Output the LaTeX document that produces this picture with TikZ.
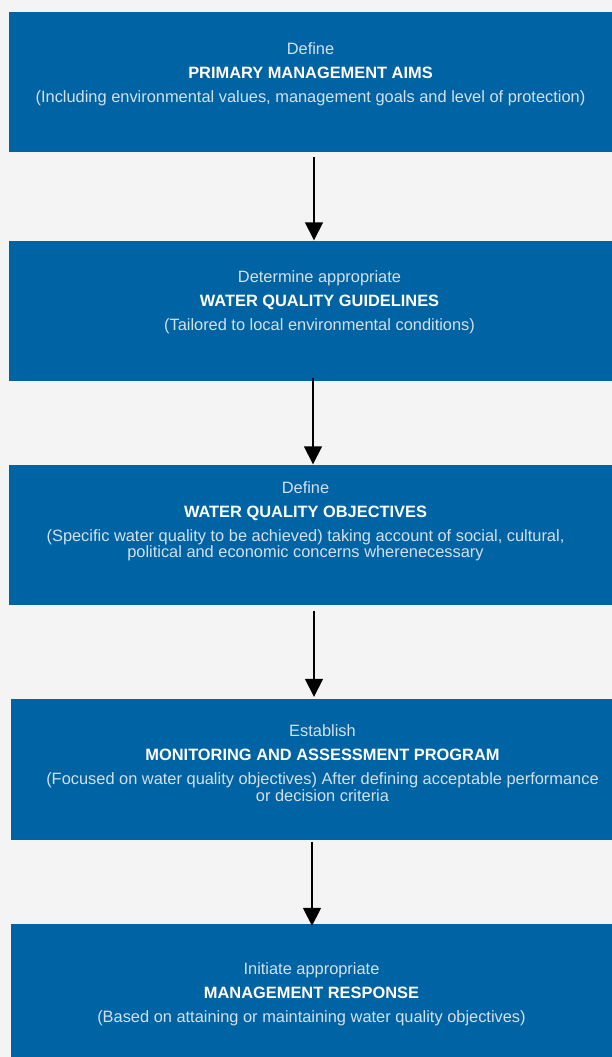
\documentclass[tikz,border=0pt]{standalone}
\usepackage{fontspec}
\setmainfont{Liberation Sans}
\usetikzlibrary{positioning, arrows.meta}
\definecolor{boxblue}{HTML}{0063A3}
\definecolor{pagegray}{HTML}{F4F4F4}
\definecolor{softtext}{HTML}{D3E1EC}

\begin{document}
\begin{tikzpicture}[
    x=1pt, y=1pt,
    stagebox/.style={rectangle, fill=boxblue, minimum width=603pt, minimum height=140pt, inner sep=0pt},
    stagetext/.style={align=center, inner sep=0pt, text=softtext, font=\fontsize{16.4}{16.2}\selectfont},
    flowarrow/.style={-{Triangle[width=18pt, length=18pt]}, line width=1.6pt, black}
]
\fill[pagegray] (0,0) rectangle (612,-1057);

\node[stagebox](aims) at (310.5,-82){};
\node[stagebox](guide) at (310.5,-310.5){};
\node[stagebox](objs) at (310.5,-534.5){};
\node[stagebox, minimum width=601pt, minimum height=141pt](monit) at (311.5,-769.5){};
\node[stagebox, minimum width=601pt, minimum height=133pt](resp) at (311.5,-990.5){};

\node[stagetext](aims_t)[below = 31pt of aims.north]{Define\\[7.8pt]
    \textcolor{white}{\textbf{PRIMARY MANAGEMENT AIMS}}\\[7.8pt]
    (Including environmental values, management goals and level of protection)};
\node[stagetext](guide_t)[below = 30pt of guide.north, xshift=9pt]{Determine appropriate\\[7.8pt]
    \textcolor{white}{\textbf{WATER QUALITY GUIDELINES}}\\[7.8pt]
    (Tailored to local environmental conditions)};
\node[stagetext](objs_t)[below = 17pt of objs.north, xshift=-5pt]{Define\\[7.8pt]
    \textcolor{white}{\textbf{WATER QUALITY OBJECTIVES}}\\[7.8pt]
    (Specific water quality to be achieved) taking account of social, cultural,\\
    political and economic concerns wherenecessary};
\node[stagetext](monit_t)[below = 26pt of monit.north, xshift=11pt]{Establish\\[7.8pt]
    \textcolor{white}{\textbf{MONITORING AND ASSESSMENT PROGRAM}}\\[7.8pt]
    (Focused on water quality objectives) After defining acceptable performance\\
    or decision criteria};
\node[stagetext](resp_t)[below = 39pt of resp.north]{Initiate appropriate\\[7.8pt]
    \textcolor{white}{\textbf{MANAGEMENT RESPONSE}}\\[7.8pt]
    (Based on attaining or maintaining water quality objectives)};

\draw[flowarrow] ([xshift=3.5pt, yshift=-5pt]aims.south) -- ([xshift=3.5pt]guide.north);
\draw[flowarrow] ([xshift=2.5pt, yshift=3pt]guide.south) -- ([xshift=2.5pt]objs.north);
\draw[flowarrow] ([xshift=3.5pt, yshift=-6pt]objs.south) -- ([xshift=2.5pt, yshift=2pt]monit.north);
\draw[flowarrow] ([xshift=0.5pt, yshift=-1.5pt]monit.south) -- ([xshift=0.5pt, yshift=-2pt]resp.north);
\end{tikzpicture}
\end{document}
